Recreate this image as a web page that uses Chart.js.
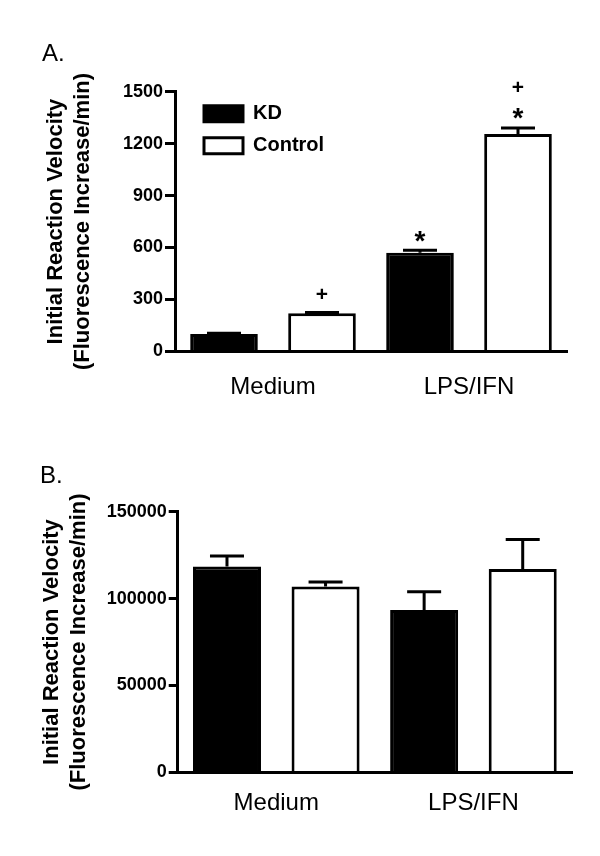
<!DOCTYPE html>
<html>
<head>
<meta charset="utf-8">
<script src="https://cdn.jsdelivr.net/npm/chart.js@4.4.1/dist/chart.umd.min.js"></script>
<style>
  body { margin: 0; background: #fff; }
  .panel { position: absolute; left: 0; width: 600px; height: 428px; }
  #panelA { top: 0; }
  #panelB { top: 428px; }
</style>
</head>
<body>
<div class="panel" id="panelA"><canvas id="chartA" width="600" height="428"></canvas></div>
<div class="panel" id="panelB"><canvas id="chartB" width="600" height="428"></canvas></div>
<script>
var categories = ['Medium', 'LPS/IFN'];
var seriesNames = ['KD', 'Control'];

// panel A
var kdA = [100, 570];
var kdErrA = [5, 14];
var controlA = [220, 1255];
var controlErrA = [5, 36];
var kdMarksA = [[], ['*']];
var controlMarksA = [['+'], ['*', '+']];
var yTicksA = [0, 300, 600, 900, 1200, 1500];

// panel B
var kdB = [118500, 93500];
var kdErrB = [6000, 10500];
var controlB = [107000, 117000];
var controlErrB = [2500, 17000];
var yTicksB = [0, 50000, 100000, 150000];

var FONT = '"Liberation Sans", Arial, sans-serif';
Chart.defaults.font.family = FONT;
Chart.defaults.color = '#000';

// upper error bars + significance marks
function errorPlugin(errors, marks) {
    return {
        id: 'errorBars',
        afterDatasetsDraw: function(chart) {
            var ctx = chart.ctx;
            var y = chart.scales.y;
            chart.data.datasets.forEach(function(ds, i) {
                var meta = chart.getDatasetMeta(i);
                meta.data.forEach(function(bar, j) {
                    var top = y.getPixelForValue(ds.data[j] + errors[i][j]);
                    ctx.save();
                    ctx.strokeStyle = '#000';
                    ctx.lineWidth = 3;
                    ctx.beginPath();
                    ctx.moveTo(bar.x, bar.y);
                    ctx.lineTo(bar.x, top);
                    ctx.moveTo(bar.x - 17, top);
                    ctx.lineTo(bar.x + 17, top);
                    ctx.stroke();
                    ctx.fillStyle = '#000';
                    ctx.textAlign = 'center';
                    var m = marks ? marks[i][j] : [];
                    m.forEach(function(s, k) {
                        var cy = top - 17 - k * 22.5;
                        if (s === '*') {
                            ctx.font = 'bold 28px ' + FONT;
                            ctx.textBaseline = 'alphabetic';
                            ctx.fillText(s, bar.x, cy + 0.58 * 28);
                        } else {
                            ctx.font = 'bold 21px ' + FONT;
                            ctx.textBaseline = 'middle';
                            ctx.fillText(s, bar.x, cy);
                        }
                    });
                    ctx.restore();
                });
            });
        }
    };
}

// put the legend inside the plot, near the top left
var legendShift = {
    id: 'legendShift',
    afterLayout: function(chart) {
        var lg = chart.legend;
        if (lg && lg.options.display) {
            var w = lg.width, h = lg.height;
            lg.left = chart.chartArea.left + 17;
            lg.top = chart.chartArea.top;
            lg.right = lg.left + w;
            lg.bottom = lg.top + h;
        }
    }
};

function makeChart(id, p) {
    var ctx = document.getElementById(id).getContext('2d');
    return new Chart(ctx, {
        type: 'bar',
        data: {
            labels: categories,
            datasets: [{
                label: seriesNames[0],
                data: p.kd,
                backgroundColor: '#000',
                borderColor: '#000',
                borderWidth: 3,
                categoryPercentage: 1.0,
                barPercentage: 0.69
            }, {
                label: seriesNames[1],
                data: p.control,
                backgroundColor: '#fff',
                borderColor: '#000',
                borderWidth: 3,
                categoryPercentage: 1.0,
                barPercentage: 0.69
            }]
        },
        options: {
            responsive: false,
            animation: false,
            layout: { padding: p.padding },
            plugins: {
                tooltip: { enabled: false },
                title: {
                    display: true,
                    text: p.letter,
                    align: 'start',
                    color: '#000',
                    font: { size: 24, weight: 'normal' },
                    padding: p.titlePad
                },
                legend: {
                    display: p.legend,
                    position: 'chartArea',
                    align: 'start',
                    labels: {
                        boxWidth: 39,
                        boxHeight: 16,
                        padding: 12,
                        color: '#000',
                        font: { size: 20, weight: 'bold' }
                    }
                }
            },
            scales: {
                x: {
                    grid: { display: false, drawTicks: false },
                    border: { color: '#000', width: 3 },
                    ticks: { color: '#000', padding: p.xPad, font: { size: 24 } }
                },
                y: {
                    min: p.ticks[0],
                    max: p.ticks[p.ticks.length - 1],
                    afterBuildTicks: function(s) {
                        s.ticks = p.ticks.map(function(v) { return { value: v }; });
                    },
                    afterFit: function(s) { s.width = p.yWidth; },
                    grid: { drawOnChartArea: false, tickLength: p.tickLen, color: '#000', lineWidth: 3 },
                    border: { color: '#000', width: 3 },
                    ticks: {
                        color: '#000',
                        padding: 2,
                        font: { size: 18, weight: 'bold' },
                        callback: function(v) { return String(v); }
                    },
                    title: {
                        display: true,
                        text: ['Initial Reaction Velocity', '(Fluorescence Increase/min)'],
                        color: '#000',
                        font: { size: 22, weight: 'bold', lineHeight: 1.22 },
                        padding: { top: p.yTitlePad, bottom: 0 }
                    }
                }
            }
        },
        plugins: [errorPlugin(p.errors, p.marks), legendShift]
    });
}

window.onload = function() {
    window.chartA = makeChart('chartA', {
        kd: kdA, control: controlA,
        errors: [kdErrA, controlErrA],
        marks: [kdMarksA, controlMarksA],
        ticks: yTicksA,
        letter: 'A.',
        legend: true,
        padding: { left: 42, right: 33, top: 0, bottom: 3.8 },
        titlePad: { top: 39.6, bottom: 23.3 },
        yWidth: 133,
        tickLen: 10,
        xPad: 22,
        yTitlePad: 1
    });
    window.chartB = makeChart('chartB', {
        kd: kdB, control: controlB,
        errors: [kdErrB, controlErrB],
        marks: null,
        ticks: yTicksB,
        letter: 'B.',
        legend: false,
        padding: { left: 40, right: 28, top: 0, bottom: 20.8 },
        titlePad: { top: 34, bottom: 20.9 },
        yWidth: 137.7,
        tickLen: 9,
        xPad: 17,
        yTitlePad: -1
    });
};
</script>
</body>
</html>
